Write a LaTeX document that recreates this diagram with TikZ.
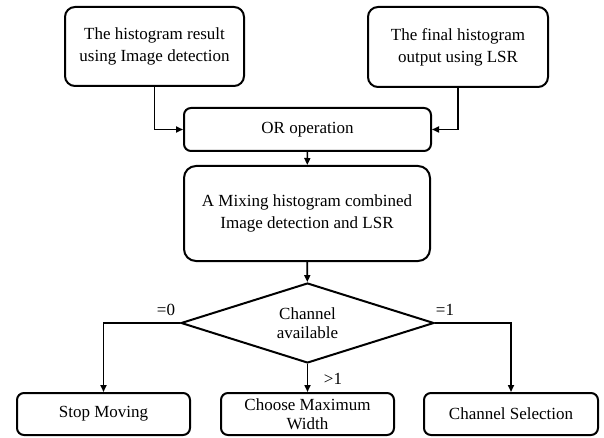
\documentclass[tikz,border=0pt]{standalone}
\usepackage{fontspec}
\setmainfont{Liberation Serif}
\usetikzlibrary{arrows.meta,shapes.geometric}
\begin{document}
\begin{tikzpicture}[x=1pt,y=-1pt,
  font=\fontsize{17}{22}\selectfont,
  box/.style={draw,line width=2pt,rounded corners=#1,align=center,inner sep=0pt},
  box/.default=10pt,
  flow/.style={line width=1.6pt,-{Triangle[length=7pt,width=6pt]}},
  lbl/.style={inner sep=0pt}]
\useasboundingbox (0,0) rectangle (604,438);
% top inputs
\node[box,minimum width=179pt,minimum height=79pt] (b1) at (154.5,46.5)
  {The histogram result\\using Image detection};
\node[box,minimum width=180pt,minimum height=80pt] (b2) at (458,47)
  {The final histogram\\output using LSR};
% combination
\node[box=7pt,minimum width=247pt,minimum height=43pt] (or) at (307.5,129.5) {OR operation};
\node[box=12pt,minimum width=246pt,minimum height=95pt] (mix) at (307,213.5)
  {A Mixing histogram combined\\Image detection and LSR};
% decision
\node[draw,shape=diamond,shape aspect=3.16,line width=2pt,inner sep=0pt,
  minimum width=253pt,minimum height=80pt,
  align=center,font=\fontsize{17}{19}\selectfont] (dia) at (307.5,323) {Channel\\available};
% outcomes
\node[box=7pt,minimum width=173pt,minimum height=42pt] (stop) at (103.5,414) {Stop Moving};
\node[box=7pt,minimum width=173pt,minimum height=42pt,font=\fontsize{17}{19}\selectfont] (choose) at (307.5,414)
  {Choose Maximum\\Width};
\node[box=7pt,minimum width=174pt,minimum height=42pt] (sel) at (511,414) {Channel Selection};
% connectors
\draw[flow] (b1.south) |- (or.west);
\draw[flow] (b2.south) |- (or.east);
\draw[flow] (or) -- (mix);
\draw[flow] (mix) -- (dia);
\draw[flow] (dia.west) -| (stop.north);
\draw[flow] (dia.east) -| (sel.north);
\draw[flow] (dia.south) -- (choose.north);
% branch labels
\node[lbl] (l0) at (166,310) {=0};
\node[lbl] (l1) at (445,310) {=1};
\node[lbl] (lg) at (333,379) {>1};
\end{tikzpicture}
\end{document}
